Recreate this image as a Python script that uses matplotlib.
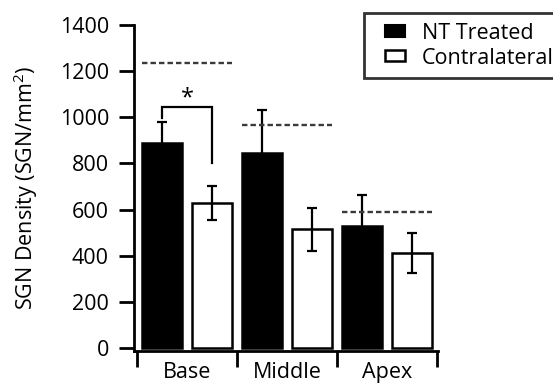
import matplotlib
matplotlib.use("Agg")
import matplotlib.pyplot as plt
from matplotlib.patches import Rectangle
from matplotlib.legend_handler import HandlerPatch
import numpy as np

plt.rcParams['font.family'] = ['Open Sans', 'DejaVu Sans']
plt.rcParams['mathtext.default'] = 'regular'

regions = ["Base", "Middle", "Apex"]
series_names = ["NT Treated", "Contralateral"]
nt_treated = [887, 844, 528]
nt_err = [91, 186, 134]
contralateral = [628, 515, 411]
contra_err = [75, 93, 87]
normal_levels = [1234, 965, 589]
yticks = [0, 200, 400, 600, 800, 1000, 1200, 1400]

W, H = 553, 383
fig = plt.figure(figsize=(W / 100, H / 100), dpi=100)
ax = fig.add_axes([134 / W, (H - 351) / H, (438 - 134) / W, (351 - 25) / H])

LW = 1.8
x = np.arange(len(regions))
bw = 0.4
off = 0.25
ax.bar(x - off, nt_treated, bw, color='black', edgecolor='black', linewidth=LW, zorder=2)
ax.bar(x + off, contralateral, bw, color='white', edgecolor='black', linewidth=LW, zorder=2)
ax.errorbar(x - off, nt_treated, yerr=nt_err, fmt='none', ecolor='black',
            elinewidth=1.6, capsize=3.8, capthick=1.6, zorder=1)
ax.errorbar(x + off, contralateral, yerr=contra_err, fmt='none', ecolor='black',
            elinewidth=1.6, capsize=3.8, capthick=1.6, zorder=3)

for i, lvl in enumerate(normal_levels):
    ax.plot([x[i] - 0.45, x[i] + 0.45], [lvl, lvl], color='#3a3a3a', lw=1.7,
            linestyle=(0, (2.3, 1.3)), zorder=1)

# significance bracket
bx0, bx1 = x[0] - off, x[0] + off
ax.plot([bx0, bx0, bx1, bx1], [995, 1043, 1043, 800], color='black', lw=1.6,
        solid_joinstyle='miter', zorder=3)
ax.text(x[0], 1080, '*', ha='center', va='center', fontsize=17)

ax.set_xlim(-0.53, 2.51)
ax.set_ylim(-13, 1400)
for s in ['top', 'right']:
    ax.spines[s].set_visible(False)
for s in ['left', 'bottom']:
    ax.spines[s].set_linewidth(2.0)

ax.set_yticks(yticks)
ax.set_yticklabels([str(v) for v in yticks])
ax.tick_params(axis='y', length=11, width=2.0, pad=7, labelsize=15.5)

ax.set_xticks([-0.5, 0.5, 1.5, 2.5])
ax.set_xticklabels([])
ax.set_xticks(x, minor=True)
ax.set_xticklabels(regions, minor=True)
ax.tick_params(axis='x', which='major', length=11.5, width=2.0)
ax.tick_params(axis='x', which='minor', length=0, pad=8, labelsize=15.5)

ax.set_ylabel('SGN Density (SGN/mm$^{2}$)', fontsize=15.5)
ax.yaxis.set_label_coords(-0.31, 0.5)


def make_rect(legend, orig_handle, xdescent, ydescent, width, height, fontsize):
    return Rectangle((-xdescent + width * 0.35, -ydescent), width * 0.65, height)


handles = [Rectangle((0, 0), 1, 1, facecolor='black', edgecolor='black', linewidth=1.5),
           Rectangle((0, 0), 1, 1, facecolor='white', edgecolor='black', linewidth=1.8)]
leg = fig.legend(handles, series_names, loc='upper left',
                 bbox_to_anchor=(364 / W, 1 - 13 / H),
                 fontsize=15.5, frameon=True, fancybox=False, borderpad=0.45,
                 handlelength=1.45, handleheight=0.42, handletextpad=0.8,
                 labelspacing=0.18, borderaxespad=0,
                 handler_map={Rectangle: HandlerPatch(patch_func=make_rect)})
leg.get_frame().set_edgecolor('black')
leg.get_frame().set_linewidth(2.0)

fig.savefig('out.png', dpi=100)
